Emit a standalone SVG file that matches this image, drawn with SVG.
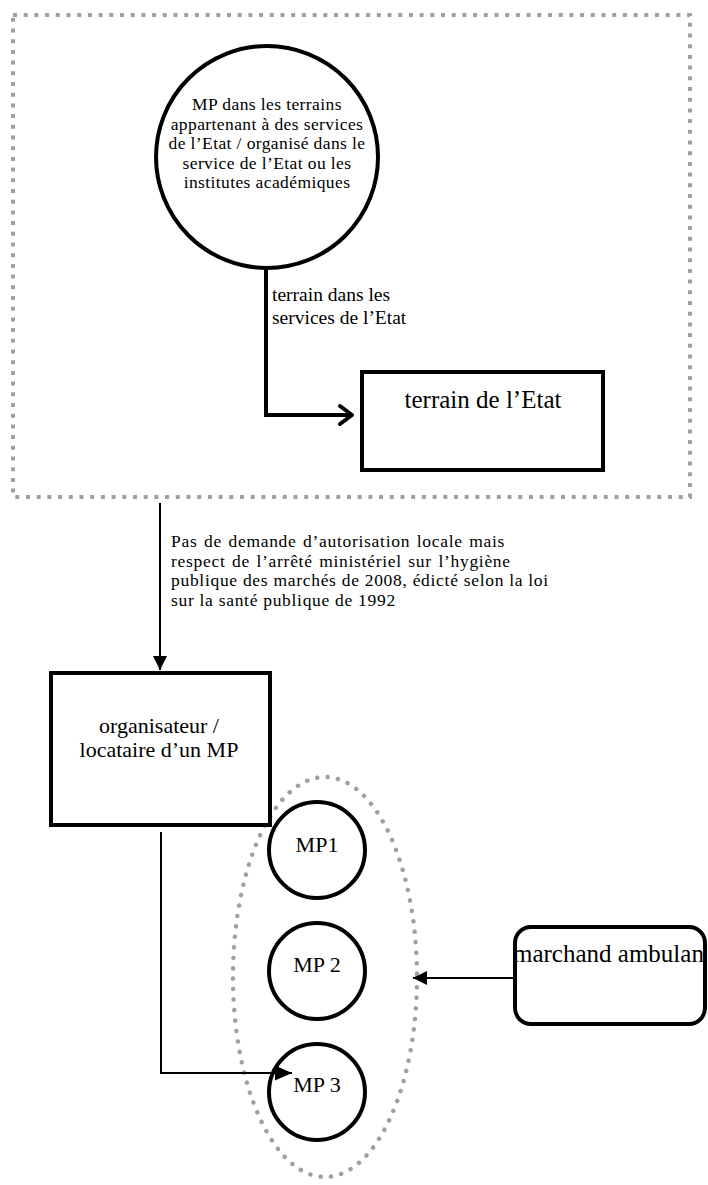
<svg xmlns="http://www.w3.org/2000/svg" width="708" height="1185" viewBox="0 0 708 1185">
<style>
text{font-family:"Liberation Serif","Times New Roman",serif;fill:#000}
.node{fill:#fff;stroke:#000;stroke-width:4}
.tc{font-size:17.5px;letter-spacing:0.4px}
.tp{font-size:17.5px;letter-spacing:0.7px}
.t15{font-size:19.5px}
.t17{font-size:22px}
.t19{font-size:25px}
.frame{fill:none;stroke:#a0a0a0;stroke-width:4;stroke-dasharray:4 6.7}
.dots{fill:none;stroke:#a0a0a0;stroke-width:4.5;stroke-dasharray:0.1 10.4;stroke-linecap:round}
</style>
<defs>
<marker id="tri2" viewBox="0 0 10 10" refX="10" refY="5" markerWidth="14" markerHeight="14" markerUnits="userSpaceOnUse" orient="auto">
<path d="M0,0 L10,5 L0,10 Z" fill="#000"/>
</marker>
<marker id="tri3" viewBox="0 0 10 10" refX="10" refY="5" markerWidth="17" markerHeight="15" markerUnits="userSpaceOnUse" orient="auto" preserveAspectRatio="none">
<path d="M0,0 L10,5 L0,10 Z" fill="#000"/>
</marker>
</defs>
<g id="frame"><rect class="frame" x="13" y="15" width="677" height="482"/></g>
<g id="ellipse-group"><ellipse class="dots" cx="325" cy="977" rx="92" ry="200"/></g>
<g id="n-mp-etat">
<circle class="node" cx="267" cy="157" r="111"/>
<text class="tc" text-anchor="middle"><tspan x="267" y="110">MP dans les terrains</tspan><tspan x="267" y="129.5">appartenant à des services</tspan><tspan x="267" y="149">de l’Etat / organisé dans le</tspan><tspan x="267" y="168.5">service de l’Etat ou les</tspan><tspan x="267" y="188">institutes académiques</tspan></text>
</g>
<g id="n-terrain">
<rect class="node" x="362" y="372" width="241" height="98"/>
<text class="t19" x="483" y="408" text-anchor="middle">terrain de l’Etat</text>
</g>
<g id="n-organisateur">
<rect class="node" x="51" y="673" width="219" height="152"/>
<text class="t17" text-anchor="middle"><tspan x="159" y="733">organisateur /</tspan><tspan x="159" y="757">locataire d’un MP</tspan></text>
</g>
<g id="n-mp1"><circle class="node" cx="317" cy="850" r="48"/><text class="t17" x="317" y="852" text-anchor="middle">MP1</text></g>
<g id="n-mp2"><circle class="node" cx="317" cy="971" r="48"/><text class="t17" x="317" y="972" text-anchor="middle">MP 2</text></g>
<g id="n-mp3"><circle class="node" cx="317" cy="1092" r="48"/><text class="t17" x="317" y="1092" text-anchor="middle">MP 3</text></g>
<g id="n-marchand">
<rect class="node" x="515" y="927" width="190" height="97" rx="16"/>
<text class="t19" x="513" y="962">marchand ambulan</text>
</g>
<g id="connectors">
<path d="M266,268 V415 H350" fill="none" stroke="#000" stroke-width="4"/>
<path d="M340,406 L352,415 L340,424" fill="none" stroke="#000" stroke-width="4" stroke-linecap="round" stroke-linejoin="round"/>
<text class="t15"><tspan x="272" y="301">terrain dans les</tspan><tspan x="272" y="324">services de l’Etat</tspan></text>
<line x1="160" y1="503" x2="160" y2="670" stroke="#000" stroke-width="2" marker-end="url(#tri2)"/>
<text class="tp"><tspan x="171" y="547" word-spacing="1.5">Pas de demande d’autorisation locale mais</tspan><tspan x="171" y="566.5" word-spacing="1.5">respect de l’arrêté ministériel sur l’hygiène</tspan><tspan x="171" y="586">publique des marchés de 2008, édicté selon la loi</tspan><tspan x="171" y="605.5">sur la santé publique de 1992</tspan></text>
<path d="M161,832 V1073 H292" fill="none" stroke="#000" stroke-width="2" marker-end="url(#tri3)"/>
<line x1="515" y1="978" x2="413" y2="978" stroke="#000" stroke-width="2" marker-end="url(#tri2)"/>
</g>
</svg>
